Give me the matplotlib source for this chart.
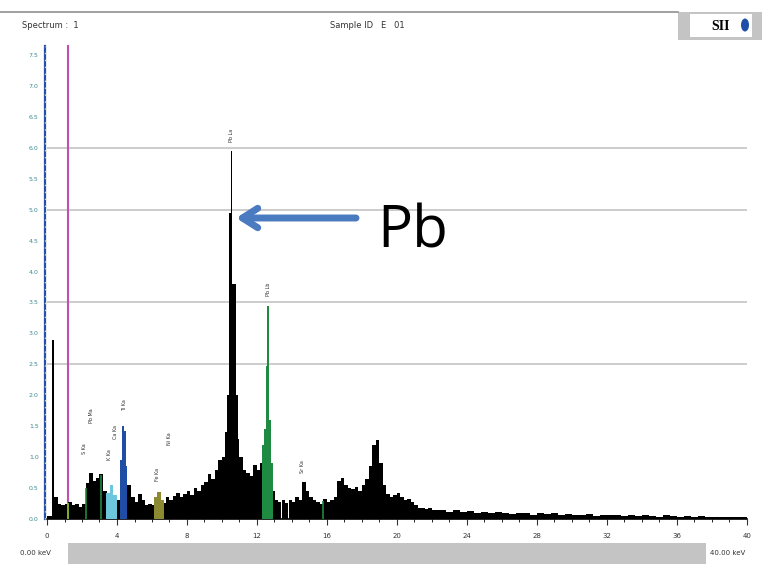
import numpy as np
import matplotlib.pyplot as plt
from matplotlib.patches import Rectangle, Ellipse

# spectrum: bin edges (keV) and intensity per bin
edges = [0.0, 0.3, 0.38, 0.6, 0.8, 1.0, 1.2, 1.4, 1.6, 1.8,
         2.0, 2.2, 2.4, 2.6, 2.8, 3.0, 3.2, 3.4, 3.6, 3.8,
         4.0, 4.2, 4.3, 4.4, 4.5, 4.6, 4.8, 5.0, 5.2, 5.4, 5.6, 5.8,
         6.0, 6.1, 6.3, 6.5, 6.7, 6.8, 7.0, 7.2, 7.4, 7.6, 7.8,
         8.0, 8.2, 8.4, 8.6, 8.8, 9.0, 9.2, 9.4, 9.6, 9.8,
         10.0, 10.2, 10.3, 10.4, 10.5, 10.6, 10.7, 10.8, 10.9,
         11.0, 11.2, 11.4, 11.6, 11.8, 12.0,
         12.2, 12.3, 12.4, 12.5, 12.6, 12.7, 12.8, 12.9,
         13.0, 13.2, 13.4, 13.6, 13.8, 14.0, 14.2, 14.4, 14.6, 14.8,
         15.0, 15.2, 15.4, 15.6, 15.8, 16.0, 16.2, 16.4, 16.6, 16.8,
         17.0, 17.2, 17.4, 17.6, 17.8, 18.0, 18.2, 18.4, 18.6, 18.8,
         19.0, 19.2, 19.4, 19.6, 19.8, 20.0, 20.2, 20.4, 20.6, 20.8,
         21.0, 21.2, 21.4, 21.6, 21.8, 22.0,
         22.4, 22.8, 23.2, 23.6, 24.0, 24.4, 24.8, 25.2, 25.6, 26.0,
         26.4, 26.8, 27.2, 27.6, 28.0, 28.4, 28.8, 29.2, 29.6, 30.0,
         30.4, 30.8, 31.2, 31.6, 32.0, 32.4, 32.8, 33.2, 33.6, 34.0,
         34.4, 34.8, 35.2, 35.6, 36.0, 36.4, 36.8, 37.2, 37.6, 38.0,
         38.4, 38.8, 39.2, 39.6, 40.0]
counts = [0.05, 2.9, 0.35, 0.25, 0.23, 0.25, 0.27, 0.22, 0.24, 0.2,
          0.25, 0.58, 0.75, 0.62, 0.66, 0.72, 0.45, 0.42, 0.55, 0.38,
          0.3, 0.95, 1.5, 1.42, 0.85, 0.55, 0.35, 0.28, 0.4, 0.3, 0.22, 0.25,
          0.22, 0.36, 0.44, 0.3, 0.26, 0.35, 0.3, 0.37, 0.42, 0.35, 0.4,
          0.45, 0.38, 0.5, 0.45, 0.55, 0.6, 0.72, 0.65, 0.8, 0.95,
          1.0, 1.4, 2.0, 4.95, 5.95, 3.8, 3.8, 2.0, 1.3,
          1.0, 0.8, 0.75, 0.7, 0.88, 0.8,
          0.9, 1.2, 1.45, 2.48, 3.45, 1.6, 0.9, 0.45,
          0.3, 0.28, 0.31, 0.26, 0.3, 0.28, 0.35, 0.3, 0.6, 0.45,
          0.35, 0.3, 0.28, 0.25, 0.32, 0.28, 0.3, 0.36, 0.62, 0.66,
          0.55, 0.5, 0.48, 0.52, 0.45, 0.55, 0.65, 0.85, 1.2, 1.27,
          0.9, 0.55, 0.4, 0.35, 0.38, 0.42, 0.35, 0.3, 0.33, 0.28,
          0.22, 0.17, 0.18, 0.16, 0.18, 0.15,
          0.14, 0.12, 0.14, 0.11, 0.13, 0.1, 0.12, 0.09, 0.11, 0.1,
          0.08, 0.1, 0.09, 0.07, 0.09, 0.08, 0.1, 0.07, 0.08, 0.07,
          0.06, 0.08, 0.05, 0.07, 0.06, 0.06, 0.05, 0.07, 0.05, 0.06,
          0.05, 0.04, 0.06, 0.05, 0.04, 0.05, 0.04, 0.05, 0.03, 0.04,
          0.04, 0.03, 0.04, 0.03]

# coloured element regions (keV from, keV to, colour)
regions = [(3.4, 4.0, '#6cc6dc'), (4.2, 4.6, '#1f4ea6'),
           (6.1, 6.7, '#8c8a30'), (12.3, 12.9, '#1e8a42')]
marker_lines = [(1.2, '#9acd32'), (2.25, '#1e8a42'), (3.08, '#1e8a42'),
                (15.8, '#1e8a42')]
grid_levels = [2.5, 3.5, 5.0, 6.0]

peak_labels = [(2.15, 1.05, 'S Ka'), (2.55, 1.55, 'Pb Ma'),
               (3.55, 0.95, 'K Ka'), (3.9, 1.3, 'Ca Ka'),
               (4.45, 1.75, 'Ti Ka'), (6.3, 0.62, 'Fe Ka'),
               (7.0, 1.2, 'Ni Ka'), (10.55, 6.1, 'Pb La'),
               (12.65, 3.6, 'Pb Lb'), (14.6, 0.75, 'Sr Ka')]

xticks = [0, 4, 8, 12, 16, 20, 24, 28, 32, 36, 40]
yticks = [i * 0.5 for i in range(16)]

W, H = 762, 564
fig = plt.figure(figsize=(W / 100, H / 100), dpi=100)
ax = fig.add_axes([47 / W, 1 - 519 / H, 700 / W, 464 / H])

left = np.array(edges[:-1])
width = np.diff(edges)
vals = np.array(counts)
colors = ['black'] * len(vals)
for lo, hi, c in regions:
    for i, e in enumerate(left):
        if lo - 1e-6 <= e < hi - 1e-6:
            colors[i] = c
ax.bar(left, vals, width=width, align='edge', color=colors, linewidth=0, zorder=3)

centers = left + width / 2
for e, c in marker_lines:
    ax.vlines(e, 0, np.interp(e, centers, vals), color=c, lw=1.2, zorder=4)

for g in grid_levels:
    ax.axhline(g, color='#c8c8c8', lw=1.3, zorder=1)

# magenta marker and the dashed left axis
ax.axvline(1.2, ymin=0, ymax=1.02, color='#c050b0', lw=1.5, clip_on=False, zorder=2)
ax.axvline(-0.1, ymin=0, ymax=1.02, color='#2050b0', lw=1.6, clip_on=False, zorder=5)
ax.axvline(-0.1, ymin=0, ymax=1.02, color='#f0e020', lw=1.0, ls=(0, (1, 4)),
           clip_on=False, zorder=6)

for e, yv, t in peak_labels:
    ax.text(e, yv, t, rotation=90, fontsize=3.5, ha='center', va='bottom',
            color='#303030', zorder=5)

ax.set_xlim(0, 40)
ax.set_ylim(0, 7.5)
ax.set_xticks(xticks)
ax.set_xticklabels([str(v) for v in xticks])
ax.set_xticks(np.arange(0, 40, 1), minor=True)
ax.set_yticks(yticks)
ax.set_yticklabels([f'{v:.1f}' for v in yticks])
for s in ['top', 'right', 'left']:
    ax.spines[s].set_visible(False)
ax.spines['bottom'].set_linewidth(1.2)
ax.tick_params(axis='x', labelsize=5, colors='#333333', length=4, pad=6)
ax.tick_params(axis='x', which='minor', length=2.5)
ax.tick_params(axis='y', labelsize=4.5, labelcolor='#3a8a90', length=0, pad=6)


def px(x, y):
    return x / W, 1 - y / H


# header
fig.add_artist(plt.Line2D([0, 678 / W], [1 - 12 / H] * 2, color='#909090', lw=1.2))
fig.text(*px(22, 26), 'Spectrum :  1', fontsize=6, va='center', color='#333333')
fig.text(*px(330, 26), 'Sample ID   E   01', fontsize=6, va='center', color='#333333')
fig.add_artist(Rectangle(px(678, 40), 84 / W, 28 / H, transform=fig.transFigure,
                         color='#c4c4c4', lw=0))
fig.add_artist(Rectangle(px(690, 37), 62 / W, 23 / H, transform=fig.transFigure,
                         color='white', lw=0))
fig.text(*px(721, 26), 'SII', fontsize=10, family='Liberation Serif', weight='bold',
         ha='center', va='center')
fig.add_artist(Ellipse(px(745, 25), 8 / W, 13 / H, transform=fig.transFigure,
                       color='#1f4ea6', lw=0))

# bottom scroll bar
fig.add_artist(Rectangle(px(68, 564), 638 / W, 21 / H, transform=fig.transFigure,
                         color='#c4c4c4', lw=0))
fig.text(*px(20, 553), '0.00 keV', fontsize=5, va='center', color='#333333')
fig.text(*px(710, 553), '40.00 keV', fontsize=5, va='center', color='#333333')

# annotation
ax.annotate('', xy=px(236, 218), xycoords='figure fraction',
            xytext=px(356, 218), textcoords='figure fraction',
            arrowprops=dict(arrowstyle='->,head_length=1.1,head_width=0.7',
                            lw=5, color='#4a7bc0', capstyle='round',
                            joinstyle='round', shrinkA=0, shrinkB=0))
fig.text(*px(377, 232), 'Pb', fontsize=42, family='Open Sans', va='center')

fig.savefig('out.png', dpi=100)
